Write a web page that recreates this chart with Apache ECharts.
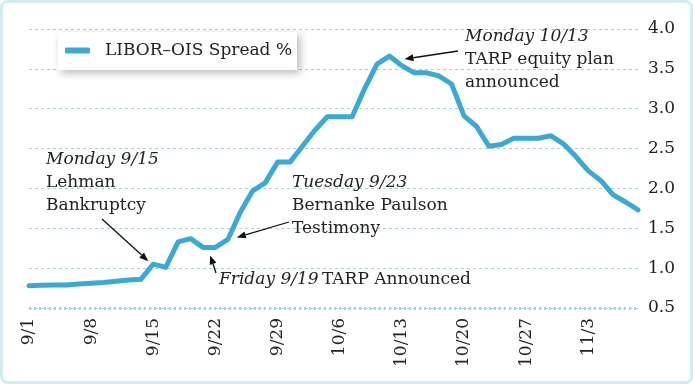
<!DOCTYPE html>
<html>
<head>
<meta charset="utf-8">
<script src="https://cdn.jsdelivr.net/npm/echarts@6/dist/echarts.min.js"></script>
<style>
html,body{margin:0;padding:0;background:#fff;}
#chart{width:693px;height:384px;}
</style>
</head>
<body>
<div id="chart"></div>
<script>
// Business days 9/1/2008 - 11/7/2008
var categories = [
  '9/1','9/2','9/3','9/4','9/5',
  '9/8','9/9','9/10','9/11','9/12',
  '9/15','9/16','9/17','9/18','9/19',
  '9/22','9/23','9/24','9/25','9/26',
  '9/29','9/30','10/1','10/2','10/3',
  '10/6','10/7','10/8','10/9','10/10',
  '10/13','10/14','10/15','10/16','10/17',
  '10/20','10/21','10/22','10/23','10/24',
  '10/27','10/28','10/29','10/30','10/31',
  '11/3','11/4','11/5','11/6','11/7'
];
var spread = [
  0.78, 0.785, 0.79, 0.79, 0.80,
  0.81, 0.82, 0.835, 0.85, 0.86,
  1.05, 1.01, 1.33, 1.37, 1.26,
  1.26, 1.36, 1.70, 1.97, 2.07,
  2.33, 2.33, 2.53, 2.73, 2.90,
  2.90, 2.90, 3.25, 3.56, 3.66,
  3.54, 3.45, 3.45, 3.41, 3.31,
  2.91, 2.78, 2.53, 2.55, 2.63,
  2.63, 2.63, 2.66, 2.56, 2.40,
  2.22, 2.10, 1.92, 1.83, 1.73
];
var seriesName = 'LIBOR\u2013OIS Spread %';
var yTicks = { min: 0.5, max: 4.0, interval: 0.5 };

var SERIF = '"DejaVu Serif", "Liberation Serif", serif';
var LINE_COLOR = '#3ca9d4';
var FS = 17;

var chart = echarts.init(document.getElementById('chart'), null, { renderer: 'canvas' });

var option = {
  backgroundColor: '#ffffff',
  animation: false,
  grid: { left: 29, right: 55, top: 29, bottom: 76, containLabel: false },
  legend: {
    data: [seriesName],
    left: 58, top: 32,
    icon: 'roundRect',
    itemWidth: 25, itemHeight: 6,
    padding: [10, 5, 11, 7],
    backgroundColor: '#ffffff',
    shadowBlur: 8, shadowColor: 'rgba(0,0,0,0.28)', shadowOffsetX: 3, shadowOffsetY: 3,
    textStyle: { fontFamily: SERIF, fontSize: FS, color: '#222', padding: [0, 0, 0, 10] }
  },
  xAxis: {
    type: 'category',
    data: categories,
    boundaryGap: false,
    axisLine: { show: true, lineStyle: { color: '#9dd5e6', width: 3, type: [2, 3], cap: 'butt' } },
    axisTick: { show: false },
    splitLine: { show: false },
    axisLabel: {
      interval: 4, rotate: 90, margin: 10,
      fontFamily: SERIF, fontSize: FS, color: '#222'
    }
  },
  yAxis: {
    type: 'value',
    position: 'right',
    min: yTicks.min, max: yTicks.max, interval: yTicks.interval,
    axisLine: { show: false },
    axisTick: { show: false },
    splitLine: { show: true, lineStyle: { color: '#a9cfdd', width: 1, type: [3, 3] } },
    axisLabel: {
      margin: 10,
      formatter: function (v) { return v.toFixed(1); },
      fontFamily: SERIF, fontSize: FS, color: '#222'
    }
  },
  series: [{
    name: seriesName,
    type: 'line',
    data: spread,
    showSymbol: false,
    symbol: 'none',
    lineStyle: { color: LINE_COLOR, width: 5, cap: 'round', join: 'round' },
    itemStyle: { color: LINE_COLOR }
  }]
};
chart.setOption(option);

function px(cat, val) { return chart.convertToPixel({ xAxisIndex: 0, yAxisIndex: 0 }, [cat, val]); }

function arrow(x1, y1, x2, y2) {
  var ang = Math.atan2(y2 - y1, x2 - x1);
  var L = 9, W = 3.5;
  var bx = x2 - L * Math.cos(ang), by = y2 - L * Math.sin(ang);
  var nx = -Math.sin(ang), ny = Math.cos(ang);
  return [
    { type: 'line', shape: { x1: x1, y1: y1, x2: bx, y2: by }, style: { stroke: '#111', lineWidth: 1.3 }, z: 50 },
    { type: 'polygon', shape: { points: [[x2, y2], [bx + nx * W, by + ny * W], [bx - nx * W, by - ny * W]] }, style: { fill: '#111' }, z: 50 }
  ];
}

var p915 = px('9/15', spread[10]);
var p919 = px('9/19', spread[14]);
var p922 = px('9/22', spread[15]);
var p923 = px('9/23', spread[16]);
var p1010 = px('10/10', spread[29]);

var rich = {
  i: { fontFamily: SERIF, fontStyle: 'italic', fontSize: FS, fill: '#222', lineHeight: 23 },
  n: { fontFamily: SERIF, fontSize: FS, fill: '#222', lineHeight: 23 }
};

var graphics = [
  { type: 'rect', shape: { x: 1.5, y: 1.5, width: 690, height: 381, r: 6 }, style: { fill: 'none', stroke: '#d3ecf4', lineWidth: 3 }, z: 100 }
];
graphics = graphics.concat(arrow(102, 219, p915[0] - 5, p915[1] - 3));
graphics = graphics.concat(arrow(216, 273, (p919[0] + p922[0]) / 2 + 1, p919[1] + 8));
graphics = graphics.concat(arrow(289, 222, p923[0] + 9, p923[1] - 2));
graphics = graphics.concat(arrow(458, 51, p1010[0] + 15, p1010[1] + 3));

graphics.push({ type: 'text', left: 46, top: 151, z: 60, style: { text: '{i|Monday 9/15}\n{n|Lehman}\n{n|Bankruptcy}', rich: rich } });
graphics.push({ type: 'text', left: 292, top: 174, z: 60, style: { text: '{i|Tuesday 9/23}\n{n|Bernanke Paulson}\n{n|Testimony}', rich: rich } });
graphics.push({ type: 'text', left: 219, top: 271, z: 60, style: { text: '{i|Friday 9/19} {n|TARP Announced}', rich: rich } });
graphics.push({ type: 'text', left: 465, top: 28, z: 60, style: { text: '{i|Monday 10/13}\n{n|TARP equity plan}\n{n|announced}', rich: rich } });

chart.setOption({ graphic: graphics });
</script>
</body>
</html>
